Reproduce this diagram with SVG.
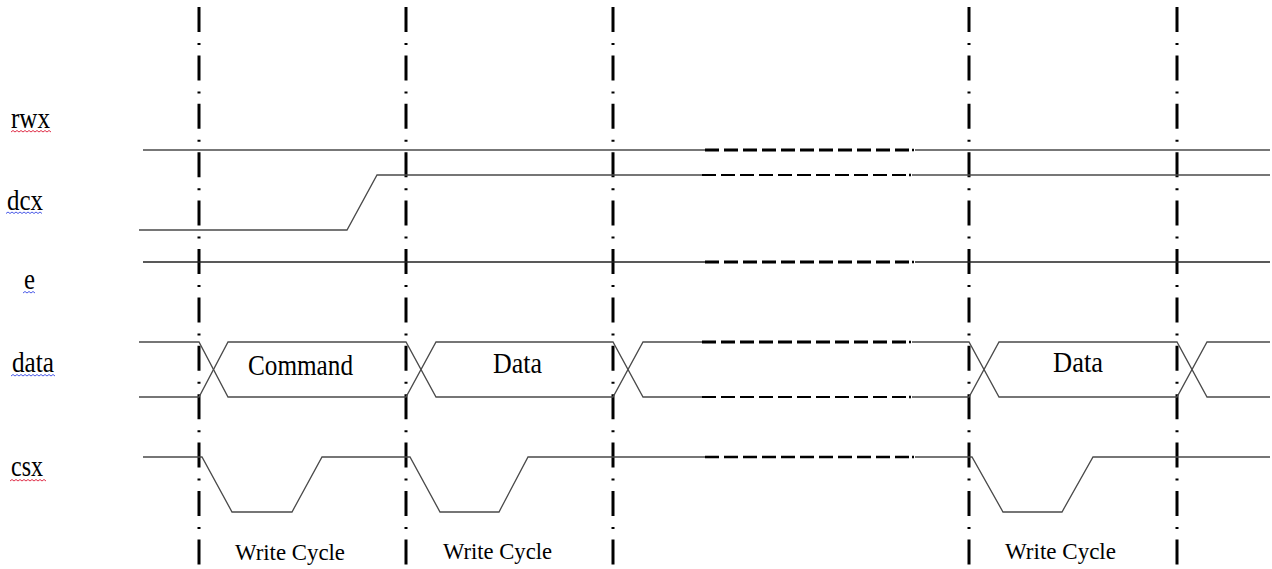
<svg xmlns="http://www.w3.org/2000/svg" width="1272" height="569" viewBox="0 0 1272 569">
<style>
.sig{fill:none;stroke:#4a4a4a;stroke-width:1.3}
.dash{fill:none;stroke:#000;stroke-width:3;stroke-dasharray:14 5}
.dashthin{fill:none;stroke:#000;stroke-width:2.2;stroke-dasharray:14 5}
.dot{fill:none;stroke:#000;stroke-width:2.5}
.grid{fill:none;stroke:#000;stroke-width:3;stroke-dasharray:25 11 2 10.4}
.lbl{font-family:"Liberation Serif","Times New Roman",serif;font-size:29px;fill:#000}
.box{font-family:"Liberation Serif","Times New Roman",serif;font-size:29px;fill:#000}
.wc{font-family:"Liberation Serif","Times New Roman",serif;font-size:23px;fill:#000}
.sq-r{fill:none;stroke:#e0304a;stroke-width:1}
.sq-b{fill:none;stroke:#4a5ae8;stroke-width:1}
</style>
<rect width="1272" height="569" fill="#fff"/>
<g id="gridlines">
<line class="grid" x1="199" y1="7" x2="199" y2="569"/>
<line class="grid" x1="406" y1="7" x2="406" y2="569"/>
<line class="grid" x1="613" y1="7" x2="613" y2="569"/>
<line class="grid" x1="969" y1="7" x2="969" y2="569"/>
<line class="grid" x1="1177" y1="7" x2="1177" y2="569"/>
</g>
<g id="labels">
<g id="label-rwx"><text class="lbl" x="11" y="128" textLength="39" lengthAdjust="spacingAndGlyphs">rwx</text>
<path class="sq-r" d="M11 132 l2 -1.5 l2 1.5 l2 -1.5 l2 1.5 l2 -1.5 l2 1.5 l2 -1.5 l2 1.5 l2 -1.5 l2 1.5 l2 -1.5 l2 1.5 l2 -1.5 l2 1.5 l2 -1.5 l2 1.5 l2 -1.5 l2 1.5 l2 -1.5 l2 1.5"/></g>
<g id="label-dcx"><text class="lbl" x="7" y="210" textLength="36" lengthAdjust="spacingAndGlyphs">dcx</text>
<path class="sq-b" d="M6 213.5 l2 -1.5 l2 1.5 l2 -1.5 l2 1.5 l2 -1.5 l2 1.5 l2 -1.5 l2 1.5 l2 -1.5 l2 1.5 l2 -1.5 l2 1.5 l2 -1.5 l2 1.5 l2 -1.5 l2 1.5 l2 -1.5 l2 1.5"/></g>
<g id="label-e"><text class="lbl" x="24" y="289" textLength="11" lengthAdjust="spacingAndGlyphs">e</text>
<path class="sq-b" d="M23 293 l2 -1.5 l2 1.5 l2 -1.5 l2 1.5 l2 -1.5 l2 1.5"/></g>
<g id="label-data"><text class="lbl" x="12" y="372" textLength="42" lengthAdjust="spacingAndGlyphs">data</text>
<path class="sq-b" d="M11 376 l2 -1.5 l2 1.5 l2 -1.5 l2 1.5 l2 -1.5 l2 1.5 l2 -1.5 l2 1.5 l2 -1.5 l2 1.5 l2 -1.5 l2 1.5 l2 -1.5 l2 1.5 l2 -1.5 l2 1.5 l2 -1.5 l2 1.5 l2 -1.5 l2 1.5 l2 -1.5 l2 1.5"/></g>
<g id="label-csx"><text class="lbl" x="11" y="476" textLength="32" lengthAdjust="spacingAndGlyphs">csx</text>
<path class="sq-r" d="M10 481 l2 -1.5 l2 1.5 l2 -1.5 l2 1.5 l2 -1.5 l2 1.5 l2 -1.5 l2 1.5 l2 -1.5 l2 1.5 l2 -1.5 l2 1.5 l2 -1.5 l2 1.5 l2 -1.5 l2 1.5 l2 -1.5 l2 1.5"/></g>
</g>
<g id="signals">
<g id="sig-rwx">
<polyline class="sig" points="143,150 705,150"/>
<line class="dash" x1="705" y1="150" x2="909" y2="150"/>
<line class="dot" x1="912" y1="150" x2="914" y2="150"/>
<polyline class="sig" points="915,150 1270,150"/>
</g>
<g id="sig-dcx">
<polyline class="sig" points="139,230 347,230 377,175 702,175"/>
<line class="dashthin" x1="702" y1="175" x2="906" y2="175"/>
<line class="dot" x1="909" y1="175" x2="911" y2="175"/>
<polyline class="sig" points="912,175 1270,175"/>
</g>
<g id="sig-e">
<polyline class="sig" style="stroke:#222" points="143,262 705,262"/>
<line class="dash" x1="705" y1="262" x2="909" y2="262"/>
<line class="dot" x1="912" y1="262" x2="914" y2="262"/>
<polyline class="sig" style="stroke:#222" points="915,262 1270,262"/>
</g>
<g id="sig-data">
<polyline class="sig" points="139,342 199,342 228,397 406,397 436,342 613,342 643,397 702,397"/>
<polyline class="sig" points="139,397 199,397 228,342 406,342 436,397 613,397 643,342 702,342"/>
<line class="dash" x1="702" y1="342" x2="906" y2="342"/>
<line class="dot" x1="909" y1="342" x2="911" y2="342"/>
<line class="dashthin" x1="702" y1="397" x2="906" y2="397"/>
<line class="dot" x1="909" y1="397" x2="911" y2="397"/>
<polyline class="sig" points="912,342 969,342 999,397 1177,397 1207,342 1270,342"/>
<polyline class="sig" points="912,397 969,397 999,342 1177,342 1207,397 1270,397"/>
<text class="box" x="248" y="375" textLength="105" lengthAdjust="spacingAndGlyphs">Command</text>
<text class="box" x="493" y="373" textLength="49" lengthAdjust="spacingAndGlyphs">Data</text>
<text class="box" x="1053" y="372" textLength="50" lengthAdjust="spacingAndGlyphs">Data</text>
</g>
<g id="sig-csx">
<polyline class="sig" points="143,457 202,457 232,512 292,512 322,457 410,457 440,512 499,512 528,457 705,457"/>
<line class="dashthin" style="stroke-width:2.6" x1="705" y1="457" x2="909" y2="457"/>
<line class="dot" x1="912" y1="457" x2="914" y2="457"/>
<polyline class="sig" points="915,457 972,457 1003,512 1062,512 1093,457 1270,457"/>
</g>
</g>
<g id="cycle-labels">
<text class="wc" x="235" y="560" textLength="110" lengthAdjust="spacingAndGlyphs">Write Cycle</text>
<text class="wc" x="443" y="559" textLength="109" lengthAdjust="spacingAndGlyphs">Write Cycle</text>
<text class="wc" x="1005" y="559" textLength="111" lengthAdjust="spacingAndGlyphs">Write Cycle</text>
</g>
</svg>
